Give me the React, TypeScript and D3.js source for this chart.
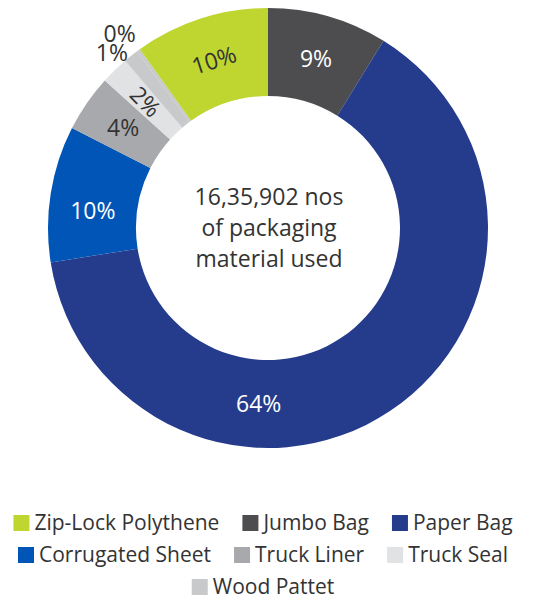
import { useEffect, useRef } from "react";
import * as d3 from "d3";

const WIDTH = 534;
const HEIGHT = 601;
const CX = 268;
const CY = 228;
const OUTER = 220;
const INNER = 132;
const FONT = "'Open Sans', 'Noto Sans', sans-serif";

// slices, clockwise from 12 o'clock (the 0% one has no legend entry)
const sliceNames = ["Jumbo Bag", "Paper Bag", "Corrugated Sheet", "Truck Liner", "Truck Seal", "Wood Pattet", "Other", "Zip-Lock Polythene"];
const sliceValues = [8.8, 63.7, 10.0, 4.2, 2.05, 1.1, 0.25, 9.9];
const sliceLabels = ["9%", "64%", "10%", "4%", "2%", "1%", "0%", "10%"];
const sliceColors = ["#4d4d4f", "#253c8c", "#0055b6", "#a8a9ac", "#e1e2e3", "#c8c9cb", "#c8c9cb", "#bfd631"];
const labelInk = ["#fff", "#fff", "#fff", "#333", "#333", "#333", "#333", "#333"];

const legendNames = ["Zip-Lock Polythene", "Jumbo Bag", "Paper Bag", "Corrugated Sheet", "Truck Liner", "Truck Seal", "Wood Pattet"];
const centerLines = ["16,35,902 nos", "of packaging", "material used"];

export default function App() {
  const ref = useRef<SVGSVGElement>(null);

  useEffect(() => {
    const svg = d3.select(ref.current);
    svg.selectAll("*").remove();

    const pie = d3.pie<number>().sort(null).value((d) => d);
    const arcs = pie(sliceValues);
    const arc = d3.arc<d3.PieArcDatum<number>>().innerRadius(INNER).outerRadius(OUTER);

    const g = svg.append("g").attr("transform", `translate(${CX},${CY})`);
    g.selectAll("path")
      .data(arcs)
      .join("path")
      .attr("d", arc)
      .attr("fill", (_, i) => sliceColors[i]);

    const deg = (a: number) => (a * 180) / Math.PI;
    const mid = (a: d3.PieArcDatum<number>) => (a.startAngle + a.endAngle) / 2;

    arcs.forEach((a, i) => {
      const name = sliceNames[i];
      let ang = mid(a);
      let rho = (INNER + OUTER) / 2;
      let rot = 0;
      let anchor = "middle";
      if (name === "Paper Bag") ang = a.startAngle + (a.endAngle - a.startAngle) * 0.66;
      if (name === "Corrugated Sheet") ang = mid(a) - 0.06;
      if (name === "Truck Seal") rot = deg(ang) - 270;
      if (name === "Zip-Lock Polythene") rot = deg(ang) - 360;
      if (name === "Wood Pattet" || name === "Other") {
        rho = OUTER + 8;
        anchor = "end";
      }
      let x = rho * Math.sin(ang);
      let y = -rho * Math.cos(ang);
      if (name === "Wood Pattet") { y += 3; x += 2; }
      if (name === "Other") { y -= 10; x += 2; }
      g.append("text")
        .attr("transform", `translate(${x},${y}) rotate(${rot})`)
        .attr("text-anchor", anchor)
        .attr("dy", "0.35em")
        .attr("font-family", FONT)
        .attr("font-size", 23)
        .attr("fill", labelInk[i])
        .text(sliceLabels[i]);
    });

    svg.append("g")
      .selectAll("text")
      .data(centerLines)
      .join("text")
      .attr("x", CX + 1)
      .attr("y", (_, i) => CY + (i - 1) * 31)
      .attr("dy", "0.35em")
      .attr("text-anchor", "middle")
      .attr("font-family", FONT)
      .attr("font-size", 23)
      .attr("fill", "#333")
      .text((d) => d);

    // legend: centred rows that wrap
    const SW = 16;
    const GAP = 5;
    const ITEM_GAP = 23;
    const MAXW = 515;
    const LX = 263;
    const rowY = [523, 555, 587];
    const leg = svg.append("g");
    const items = legendNames.map((n) => {
      const color = sliceColors[sliceNames.indexOf(n)];
      const it = leg.append("g");
      it.append("rect").attr("width", SW).attr("height", SW).attr("y", -SW / 2).attr("fill", color);
      const t = it.append("text")
        .attr("x", SW + GAP)
        .attr("dy", "0.35em")
        .attr("font-family", FONT)
        .attr("font-size", 21)
        .attr("fill", "#333")
        .text(n);
      const w = SW + GAP + (t.node() as SVGTextElement).getComputedTextLength();
      return { it, w };
    });
    const rows: { it: any; w: number }[][] = [[]];
    let cur = 0;
    items.forEach((item) => {
      const row = rows[rows.length - 1];
      const add = row.length ? ITEM_GAP + item.w : item.w;
      if (row.length && cur + add > MAXW) {
        rows.push([item]);
        cur = item.w;
      } else {
        row.push(item);
        cur += add;
      }
    });
    rows.forEach((row, r) => {
      const total = d3.sum(row, (d) => d.w) + ITEM_GAP * (row.length - 1);
      let x = LX - total / 2;
      row.forEach((item) => {
        item.it.attr("transform", `translate(${x},${rowY[r]})`);
        x += item.w + ITEM_GAP;
      });
    });
  }, []);

  return (
    <svg
      ref={ref}
      width={WIDTH}
      height={HEIGHT}
      style={{ position: "absolute", left: 0, top: 0, background: "#fff" }}
    />
  );
}
